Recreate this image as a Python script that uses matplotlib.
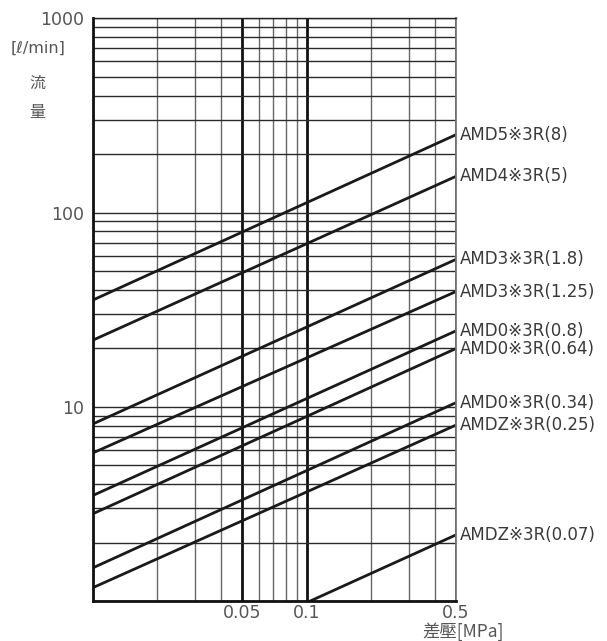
import matplotlib
matplotlib.use('Agg')
from matplotlib import pyplot as plt
from matplotlib import ticker
import matplotlib.transforms as mtransforms
import numpy as np

plt.rcParams['font.family'] = ['DejaVu Sans', 'Noto Sans CJK JP']

# Model labels and flow (ℓ/min) at start / end pressure
models = ['AMD5※3R(8)', 'AMD4※3R(5)', 'AMD3※3R(1.8)', 'AMD3※3R(1.25)',
          'AMD0※3R(0.8)', 'AMD0※3R(0.64)', 'AMD0※3R(0.34)', 'AMDZ※3R(0.25)',
          'AMDZ※3R(0.07)']
dp_start = [0.01, 0.01, 0.01, 0.01, 0.01, 0.01, 0.01, 0.01, 0.1]
dp_end = [0.5] * 9
q_start = [35.4, 22.0, 8.15, 5.78, 3.49, 2.81, 1.48, 1.17, 0.98]
q_end = [251.6, 153.6, 57.4, 39.2, 24.6, 19.95, 10.5, 8.05, 2.19]

x_ticks = [0.05, 0.1, 0.5]
x_labels = ['0.05', '0.1', '0.5']
y_ticks = [10, 100, 1000]
y_labels = ['10', '100', '1000']

fig = plt.figure(figsize=(6.07, 6.41), dpi=100)
ax = fig.add_axes([92.7 / 607, 1 - 601 / 641, (456 - 92.7) / 607, (601 - 18.3) / 641])
ax.set_xscale('log')
ax.set_yscale('log')
ax.set_xlim(0.01, 0.5)
ax.set_ylim(1, 1000)

# Grid
ax.xaxis.set_major_locator(ticker.FixedLocator(x_ticks))
ax.xaxis.set_major_formatter(ticker.FixedFormatter(x_labels))
ax.xaxis.set_minor_locator(ticker.LogLocator(base=10, subs=np.arange(1, 10)))
ax.xaxis.set_minor_formatter(ticker.NullFormatter())
ax.yaxis.set_major_locator(ticker.FixedLocator(y_ticks))
ax.yaxis.set_major_formatter(ticker.FixedFormatter(y_labels))
ax.yaxis.set_minor_locator(ticker.LogLocator(base=10, subs=np.arange(1, 10)))
ax.yaxis.set_minor_formatter(ticker.NullFormatter())

ax.grid(which='major', axis='x', color='#111111', lw=2)
ax.grid(which='minor', axis='x', color='#666666', lw=1)
ax.grid(which='both', axis='y', color='#2a2a2a', lw=1)
ax.set_axisbelow(True)

ax.tick_params(which='both', length=0)
ax.tick_params(axis='y', pad=6, labelsize=12.5, labelcolor='#555555')
ax.tick_params(axis='x', pad=2, labelsize=12.5, labelcolor='#555555')

for side in ['left', 'bottom']:
    ax.spines[side].set_linewidth(2)
    ax.spines[side].set_color('#111111')
ax.spines['right'].set_linewidth(1.3)
ax.spines['right'].set_color('#777777')
ax.spines['top'].set_linewidth(1)
ax.spines['top'].set_color('#222222')

# Flow lines
trans = mtransforms.blended_transform_factory(ax.transAxes, ax.transData)
for name, x0, x1, y0, y1 in zip(models, dp_start, dp_end, q_start, q_end):
    ax.plot([x0, x1], [y0, y1], color='#1a1a1a', lw=2, solid_capstyle='butt')
    ax.text(1.01, y1, name, transform=trans, ha='left', va='center',
            fontsize=12, color='#3a3a3a', clip_on=False)

# Axis titles
fig.text(38 / 607, 1 - 48 / 641, '[ℓ/min]', ha='center', va='center',
         fontsize=11.5, color='#555555')
fig.text(37 / 607, 1 - 83 / 641, '流', ha='center', va='center',
         fontsize=11.5, color='#555555', family=['Noto Sans CJK JP'])
fig.text(37 / 607, 1 - 113 / 641, '量', ha='center', va='center',
         fontsize=11.5, color='#555555', family=['Noto Sans CJK JP'])
fig.text(463 / 607, 1 - 632 / 641, '差壓[MPa]', ha='center', va='center',
         fontsize=12.5, color='#555555', family=['Noto Sans CJK JP', 'DejaVu Sans'])

plt.savefig('out.png', dpi=100)
